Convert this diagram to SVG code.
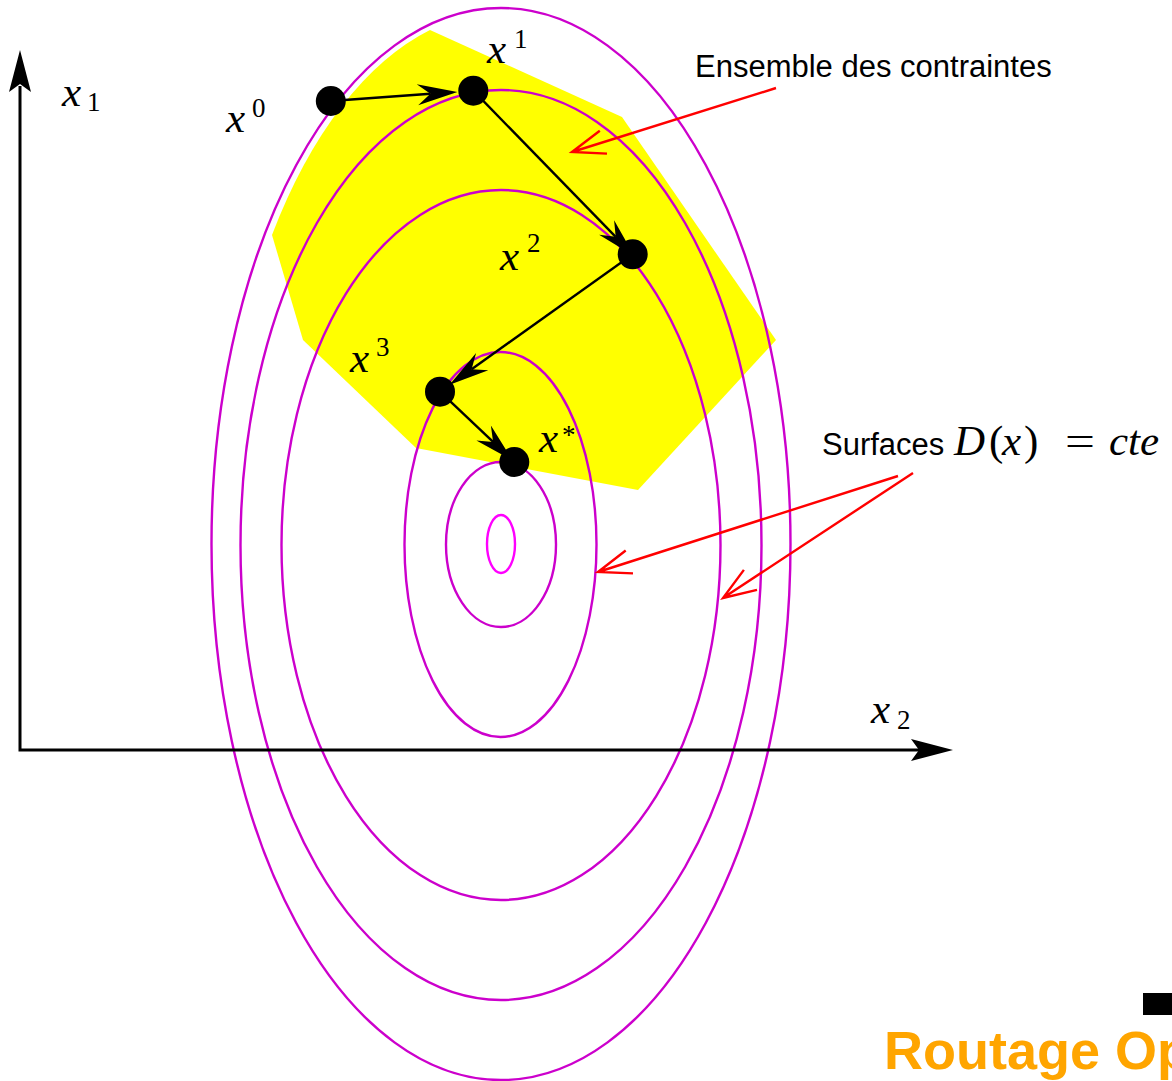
<svg xmlns="http://www.w3.org/2000/svg" width="1172" height="1081" viewBox="0 0 1172 1081">
<style>
.lvl{fill:none;stroke:#cc00cc;stroke-width:2.4}
.lvl0{fill:none;stroke:#ff00ff;stroke-width:2.4}
.ax{fill:none;stroke:#000;stroke-width:3}
.step{fill:none;stroke:#000;stroke-width:2.4}
.head{fill:#000;stroke:none}
.dot{fill:#000}
.red{fill:none;stroke:#ff0000;stroke-width:2.4}
.m{font-family:'Liberation Serif','DejaVu Serif',serif;font-style:italic;font-size:43px;fill:#000}
.s{font-family:'Liberation Serif','DejaVu Serif',serif;font-size:27px;fill:#000}
.r{font-family:'Liberation Serif','DejaVu Serif',serif;font-size:43px;fill:#000}
.t{font-family:'Liberation Sans',Arial,sans-serif;font-size:31px;fill:#000}
</style>
<rect width="1172" height="1081" fill="#fff"/>
<g id="constraint-set">
<path d="M430,30 L622,117 L776,340 L638,490 L416,448 L303,340 L272,235 A284,531 0 0 1 430,30 Z" fill="#ffff00"/>
</g>
<g id="level-sets">
<ellipse class="lvl" cx="501" cy="544" rx="289.5" ry="536"/>
<ellipse class="lvl" cx="501" cy="545" rx="260.5" ry="455"/>
<ellipse class="lvl" cx="501" cy="545" rx="219.5" ry="355"/>
<ellipse class="lvl" cx="500.5" cy="544.5" rx="96" ry="192.5"/>
<ellipse class="lvl" cx="501" cy="544.5" rx="55" ry="82.5"/>
<ellipse class="lvl0" cx="501" cy="544" rx="14" ry="29"/>
</g>
<g id="axes">
<path class="ax" d="M20,86 L20,750 L920,750"/>
<path class="head" d="M20,50 L31,92 L20,84 L9,92 Z"/>
<path class="head" d="M953,750 L911,739 L919,750 L911,761 Z"/>
</g>
<g id="connectors">
<line class="step" x1="330.8" y1="101" x2="430.4" y2="93.8"/>
<path class="head" d="M457.4,91.9 L418.2,105.2 L430.4,93.8 L416.7,84.3 Z"/>
<line class="step" x1="473.3" y1="90.7" x2="615.7" y2="236.8"/>
<path class="head" d="M634.5,256.2 L599.1,234.8 L615.7,236.8 L614.1,220.2 Z"/>
<line class="step" x1="632.7" y1="254.3" x2="471.6" y2="369.2"/>
<path class="head" d="M449.6,384.8 L476.1,353.1 L471.6,369.2 L488.3,370.2 Z"/>
<line class="step" x1="440" y1="391.7" x2="493.1" y2="441.9"/>
<path class="head" d="M512.7,460.5 L476.4,440.6 L493.1,441.9 L490.9,425.4 Z"/>
<path class="red" d="M776,88 L572,152 M599.8,130.8 L572,152 L607,153.6"/>
<path class="red" d="M898,476 L598,572 M625.7,550.5 L598,572 L633,573.4"/>
<path class="red" d="M913,473 L723,598 M743.9,569.9 L723,598 L757,589.9"/>
</g>
<g id="x0"><circle class="dot" cx="330.8" cy="101" r="15"/><text class="m" x="226" y="132">x</text><text class="s" x="252" y="117">0</text></g>
<g id="x1"><circle class="dot" cx="473.3" cy="90.7" r="15"/><text class="m" x="487" y="63">x</text><text class="s" x="514" y="48">1</text></g>
<g id="x2"><circle class="dot" cx="632.7" cy="254.3" r="15"/><text class="m" x="500" y="270">x</text><text class="s" x="527" y="252">2</text></g>
<g id="x3"><circle class="dot" cx="440" cy="391.7" r="15"/><text class="m" x="350" y="372">x</text><text class="s" x="376" y="356">3</text></g>
<g id="xstar"><circle class="dot" cx="514.3" cy="462" r="15"/><text class="m" x="539" y="452">x</text><text class="s" x="562" y="444">*</text></g>
<g id="axis-labels">
<text class="m" x="62" y="106">x</text><text class="s" x="87" y="111">1</text>
<text class="m" x="871" y="723">x</text><text class="s" x="897" y="729">2</text>
</g>
<g id="label-constraints"><text class="t" x="695" y="77">Ensemble des contraintes</text></g>
<g id="label-surfaces">
<text class="t" x="822" y="455">Surfaces</text>
<text class="m" x="954" y="455">D</text>
<text class="r" x="989" y="455">(</text>
<text class="m" x="1002" y="455">x</text>
<text class="r" x="1024" y="455">)</text>
<text class="r" x="1065" y="455" textLength="30" lengthAdjust="spacingAndGlyphs">=</text>
<text class="m" x="1109" y="455">cte</text>
</g>
<g id="footer">
<rect x="1143" y="993" width="29" height="22" fill="#000"/>
<text x="884" y="1069" font-family="'Liberation Sans',Arial,sans-serif" font-weight="bold" font-size="54" fill="#ffa500">Routage Op</text>
</g>
</svg>
